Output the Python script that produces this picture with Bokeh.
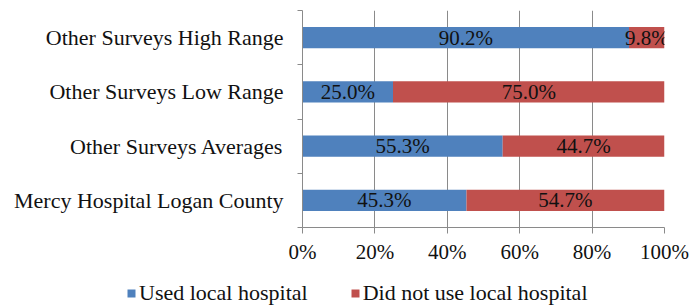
from bokeh.plotting import figure
from bokeh.models import ColumnDataSource, FixedTicker, Legend, LegendItem, Range1d
from bokeh.embed import file_html
from bokeh.resources import INLINE
from bokeh.core.properties import value

categories = ["Mercy Hospital Logan County", "Other Surveys Averages",
              "Other Surveys Low Range", "Other Surveys High Range"]
used = [45.3, 55.3, 25.0, 90.2]
not_used = [54.7, 44.7, 75.0, 9.8]
x_ticks = [0, 20, 40, 60, 80, 100]
x_tick_labels = ["0%", "20%", "40%", "60%", "80%", "100%"]
series_names = ["Used local hospital", "Did not use local hospital"]
colors = ["#4F81BD", "#C0504D"]

FONT = value("Liberation Serif")
GRAY = "#8a8a8a"

ypos = [i + 0.5 for i in range(len(categories))]
src = ColumnDataSource(dict(
    y=ypos,
    used=used,
    nu_end=[u + n for u, n in zip(used, not_used)],
    used_mid=[u / 2 for u in used],
    nu_mid=[u + n / 2 for u, n in zip(used, not_used)],
    used_lbl=[f"{u:.1f}%" for u in used],
    nu_lbl=[f"{n:.1f}%" for n in not_used],
))

p = figure(width=700, height=270, x_range=Range1d(0, 100), y_range=Range1d(0, len(categories)),
           output_backend="svg", toolbar_location=None,
           min_border_left=302, min_border_right=36, min_border_top=10, min_border_bottom=43)
p.outline_line_color = None

p.hbar(y="y", left=0, right="used", height=0.39, fill_color=colors[0], line_color=None, source=src)
p.hbar(y="y", left="used", right="nu_end", height=0.39, fill_color=colors[1], line_color=None, source=src)

for xcol, tcol in (("used_mid", "used_lbl"), ("nu_mid", "nu_lbl")):
    p.text(x=xcol, y="y", text=tcol, source=src, text_align="center", text_baseline="middle",
           text_font=FONT, text_font_size="21px", text_color="#111111")

# x axis
p.xaxis.ticker = FixedTicker(ticks=x_ticks)
p.xaxis.major_label_overrides = {t: l for t, l in zip(x_ticks, x_tick_labels)}
p.xaxis.axis_line_color = GRAY
p.xaxis.major_tick_line_color = GRAY
p.xaxis.major_tick_out = 6
p.xaxis.major_tick_in = 0
p.xaxis.minor_tick_line_color = None
p.xaxis.major_label_text_font = "Liberation Serif"
p.xaxis.major_label_text_font_size = "21px"
p.xaxis.major_label_text_color = "#111111"
p.xaxis.major_label_standoff = 6
p.xgrid.ticker = FixedTicker(ticks=x_ticks)
p.xgrid.grid_line_color = GRAY

# y axis
p.yaxis.ticker = FixedTicker(ticks=ypos, minor_ticks=list(range(len(categories) + 1)))
p.yaxis.major_label_overrides = {y: c for y, c in zip(ypos, categories)}
p.yaxis.axis_line_color = GRAY
p.yaxis.major_tick_line_color = None
p.yaxis.major_tick_out = 0
p.yaxis.major_tick_in = 0
p.yaxis.minor_tick_line_color = GRAY
p.yaxis.minor_tick_out = 5
p.yaxis.minor_tick_in = 0
p.yaxis.major_label_text_font = "Liberation Serif"
p.yaxis.major_label_text_font_size = "22px"
p.yaxis.major_label_text_color = "#111111"
p.yaxis.major_label_standoff = 14
p.ygrid.grid_line_color = None

# legend strip as a separate root (its bars lie outside its visible range; only the legend shows)
pl = figure(width=700, height=37, x_range=Range1d(0, 100), y_range=Range1d(100, 101),
            output_backend="svg", toolbar_location=None, min_border=0,
            x_axis_location=None, y_axis_location=None)
pl.outline_line_color = None
pl.grid.visible = False
lr1 = pl.hbar(y="y", left=0, right="used", height=0.39, fill_color=colors[0], line_color=None, source=src)
lr2 = pl.hbar(y="y", left="used", right="nu_end", height=0.39, fill_color=colors[1], line_color=None, source=src)

legend = Legend(items=[LegendItem(label=series_names[0], renderers=[lr1]),
                       LegendItem(label=series_names[1], renderers=[lr2])],
                orientation="horizontal", location=(126, 1),
                label_text_font="Liberation Serif", label_text_font_size="22px",
                label_text_color="#111111",
                glyph_width=10, glyph_height=10, label_standoff=3, spacing=42,
                padding=0, margin=0, border_line_color=None, background_fill_alpha=0)
pl.add_layout(legend)

open("out.html", "w").write(file_html([p, pl], INLINE))
